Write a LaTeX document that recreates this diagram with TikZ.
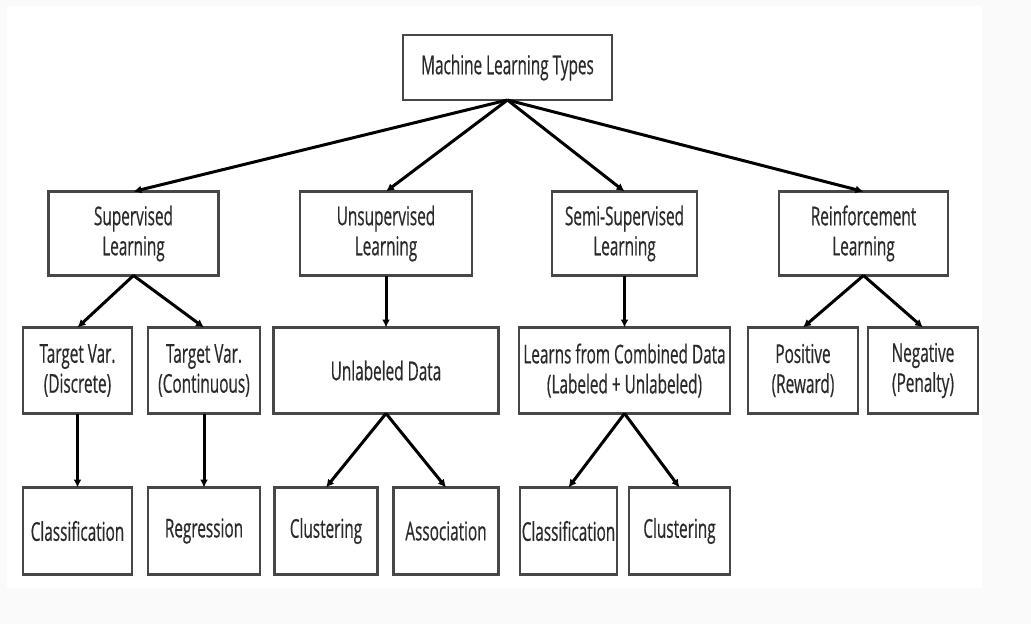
\documentclass[tikz,border=0pt]{standalone}
\usepackage{fontspec}
\setmainfont[FakeStretch=0.59,FakeBold=0.45]{Open Sans}
\usepackage{xcolor}
\usepackage{tikz}
\usetikzlibrary{positioning,arrows.meta}

\definecolor{boxline}{HTML}{474747}
\definecolor{txt}{HTML}{2A2A2A}
\definecolor{paper}{HTML}{FAFAFA}

\begin{document}
\begin{tikzpicture}[x=1pt,y=1pt,node distance=52pt,
  every node/.style={draw=boxline, line width=2.6pt, fill=white, text=txt, align=center,
    outer sep=0pt, inner sep=2pt, minimum height=86pt, font=\fontsize{26}{30}\selectfont},
  arr/.style={->, line width=3pt, black},
  >={Latex[length=8pt,width=8pt]}]

  \useasboundingbox (0,0) rectangle (1031,-624);
  \fill[paper] (0,0) rectangle (1031,-624);
  \fill[white] (7,-6) rectangle (982,-588);

  % root
  \node(A) at (507.5,-67.5) [minimum width=209pt,minimum height=65pt] {Machine Learning Types};

  % the four kinds
  \node(B) at (133.5,-233.5) [minimum width=170pt,minimum height=84pt] {Supervised\\Learning};
  \node(C) at (386,-233.5)   [minimum width=172pt,minimum height=84pt] {Unsupervised\\Learning};
  \node(D) at (624.5,-233.5) [minimum width=145pt,minimum height=84pt] {Semi-Supervised\\Learning};
  \node(E) at (863.5,-233.5) [minimum width=169pt,minimum height=84pt] {Reinforcement\\Learning};

  % second row
  \node(F)[below=of B,xshift=-56pt,minimum width=109pt] {Target Var.\\(Discrete)};
  \node(G)[below=of B,xshift=70.5pt,minimum width=112pt] {Target Var.\\(Continuous)};
  \node(H)[below=of C,minimum width=225pt] {Unlabeled Data};
  \node(I)[below=of D,minimum width=211pt] {Learns from Combined Data\\(Labeled + Unlabeled)};
  \node(J)[below=of E,xshift=-60.5pt,minimum width=110pt] {Positive\\(Reward)};
  \node(K)[below=of E,xshift=59.5pt,minimum width=110pt] {Negative\\(Penalty)};

  % third row
  \node(L)[below=74pt of F,minimum width=109pt,minimum height=87pt] {Classification};
  \node(M)[below=74pt of G,minimum width=112pt,minimum height=87pt] {Regression};
  \node(N)[below=74pt of H,xshift=-60pt,minimum width=103pt,minimum height=87pt] {Clustering};
  \node(O)[below=74pt of H,xshift=60pt,minimum width=105pt,minimum height=87pt] {Association};
  \node(P)[below=74pt of I,xshift=-56pt,minimum width=97pt,minimum height=87pt,inner xsep=1pt] {Classification};
  \node(Q)[below=74pt of I,xshift=55pt,minimum width=101pt,minimum height=87pt] {Clustering};

  \draw[arr] (A.south) to (B.north);
  \draw[arr] (A.south) to (C.north);
  \draw[arr] (A.south) to (D.north);
  \draw[arr] (A.south) to (E.north);

  \draw[arr] (B.south) to (F.north);
  \draw[arr] (B.south) to (G.north);
  \draw[arr] (C.south) to (H.north);
  \draw[arr] (D.south) to (I.north);
  \draw[arr] (E.south) to (J.north);
  \draw[arr] (E.south) to (K.north);

  \draw[arr] (F.south) to (L.north);
  \draw[arr] (G.south) to (M.north);
  \draw[arr] (H.south) to (N.north);
  \draw[arr] (H.south) to (O.north);
  \draw[arr] (I.south) to (P.north);
  \draw[arr] (I.south) to (Q.north);
\end{tikzpicture}
\end{document}
